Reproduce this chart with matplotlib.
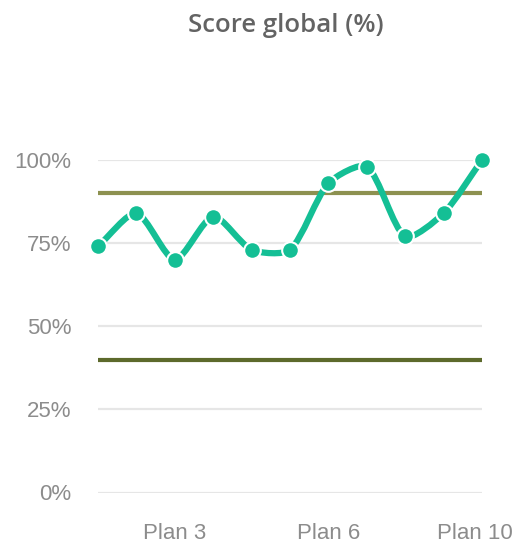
import matplotlib.pyplot as plt
import matplotlib.transforms as mtransforms
import numpy as np
from matplotlib.path import Path
from matplotlib.patches import PathPatch

# Score per plan (%)
plans = ["Plan 1", "Plan 2", "Plan 3", "Plan 3b", "Plan 4", "Plan 5",
         "Plan 6", "Plan 7", "Plan 8", "Plan 9", "Plan 10"]
scores = [74, 84, 70, 83, 73, 73, 93, 98, 77, 84, 100]
shown_ticks = [2, 6, 10]

target_high = 90
target_low = 40
y_ticks = [0, 25, 50, 75, 100]

LINE = "#14bf95"
GRID = "#e6e6e6"
TEXT = "#8c8c8c"


def spline_path(ax, xs, ys, tension=0.4):
    """Bezier path through the points, control points computed in pixel space."""
    pts = ax.transData.transform(np.column_stack([xs, ys]))
    n = len(pts)
    cps = []
    for i in range(n):
        prev = pts[max(i - 1, 0)]
        cur = pts[i]
        nxt = pts[min(i + 1, n - 1)]
        d01 = np.hypot(*(cur - prev))
        d12 = np.hypot(*(nxt - cur))
        tot = d01 + d12
        s01 = d01 / tot if tot else 0
        s12 = d12 / tot if tot else 0
        c1 = cur - tension * s01 * (nxt - prev)
        c2 = cur + tension * s12 * (nxt - prev)
        cps.append((c1, c2))
    verts = [pts[0]]
    codes = [Path.MOVETO]
    for i in range(1, n):
        verts += [cps[i - 1][1], cps[i][0], pts[i]]
        codes += [Path.CURVE4] * 3
    verts = ax.transData.inverted().transform(np.array(verts))
    return Path(verts, codes)


fig = plt.figure(figsize=(5.27, 5.44), dpi=100)
ax = fig.add_axes([98 / 527, 51.5 / 544, 384 / 527, 332.5 / 544])
ax.set_xlim(0, len(scores) - 1)
ax.set_ylim(0, 100)

for y in y_ticks:
    ax.axhline(y, color=GRID, lw=1.6, zorder=1)
ax.axhline(target_high, color="#8d9150", lw=3, zorder=2)
ax.axhline(target_low, color="#5d6a2c", lw=3, zorder=2)

x = np.arange(len(scores))
curve = PathPatch(spline_path(ax, x, scores, tension=0.25), facecolor="none",
                  edgecolor=LINE, lw=4.5, zorder=3, clip_on=False,
                  capstyle="round")
ax.add_patch(curve)
ax.plot(x, scores, "o", ms=12, color=LINE, mec="white", mew=1.5,
        zorder=4, clip_on=False)

for s in ax.spines.values():
    s.set_visible(False)
ax.set_yticks(y_ticks)
ax.set_yticklabels([f"{v}%" for v in y_ticks])
ax.set_xticks(shown_ticks)
ax.set_xticklabels([plans[i] for i in shown_ticks])
ax.tick_params(length=0, colors=TEXT, labelsize=16)
ax.tick_params(axis="y", pad=19)
ax.tick_params(axis="x", pad=22)
for lab in ax.get_xticklabels() + ax.get_yticklabels():
    lab.set_fontfamily("Liberation Sans")

# keep the last category label inside the canvas
last = ax.get_xticklabels()[-1]
last.set_transform(last.get_transform() +
                   mtransforms.ScaledTranslation(-7 / 100, 0, fig.dpi_scale_trans))

fig.text(286 / 527, 1 - 25 / 544, "Score global (%)", ha="center", va="center",
         fontsize=18.5, fontweight="semibold", color="#636363",
         family="Open Sans")

fig.savefig("out.png", dpi=100)
